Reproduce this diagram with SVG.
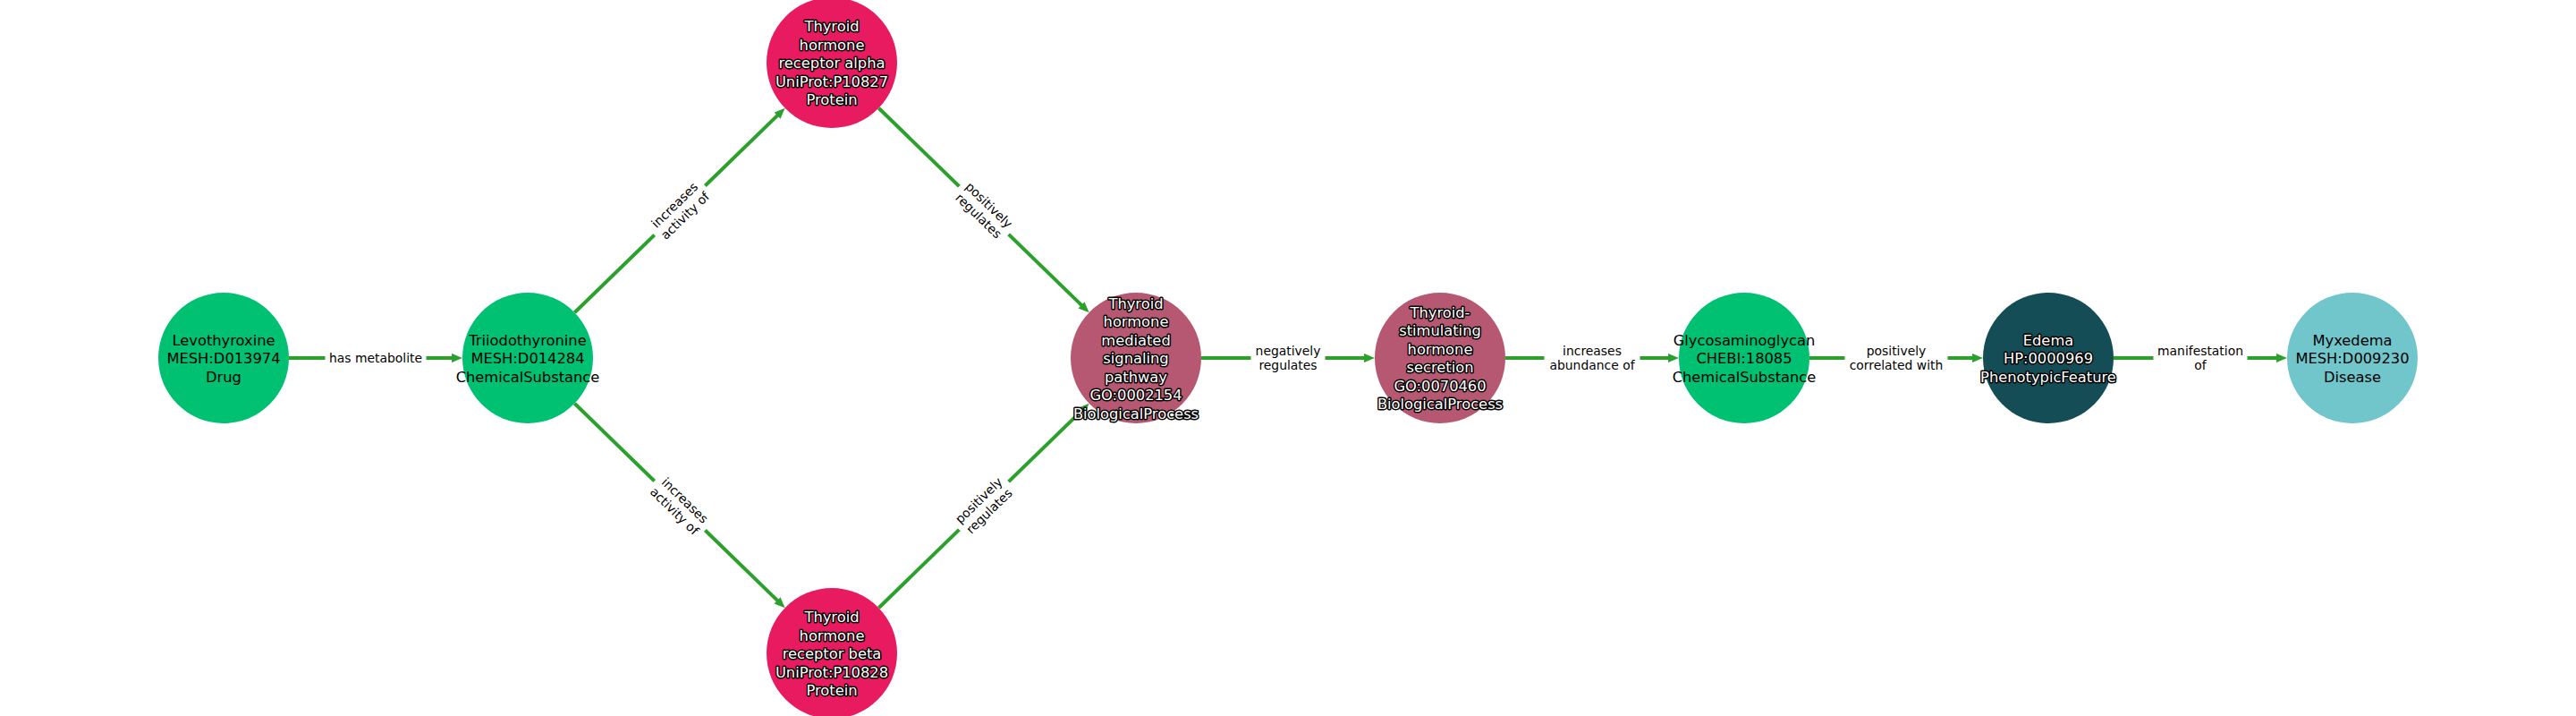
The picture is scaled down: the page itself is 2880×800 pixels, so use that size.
<svg xmlns="http://www.w3.org/2000/svg" width="2880" height="800" viewBox="0 0 2880 800">
<style>
.bg{fill:#ffffff}
.edge{stroke:#2ca02c;stroke-width:4;fill:none;marker-end:url(#arr)}
.nt{font-family:"DejaVu Sans","Liberation Sans",sans-serif;font-size:16.3px;text-anchor:middle;dominant-baseline:central}
.dark{fill:#000000}
.light{fill:#ffffff;stroke:#000000;stroke-width:3;stroke-linejoin:round;paint-order:stroke}
.et{font-family:"DejaVu Sans","Liberation Sans",sans-serif;font-size:13.9px;text-anchor:middle;dominant-baseline:central;fill:#000000}
.lb{fill:#ffffff;stroke:#ffffff;stroke-width:1}
.chem{fill:#00c172}
.prot{fill:#e91b60}
.bp{fill:#b75872}
.pheno{fill:#144d55}
.dis{fill:#70c6cb}
</style>
<defs>
<marker id="arr" markerUnits="userSpaceOnUse" markerWidth="14" markerHeight="12" refX="4" refY="5" orient="auto">
<path d="M0,0 L12,5 L0,10 z" fill="#2ca02c"/>
</marker>
</defs>
<rect class="bg" x="0" y="0" width="2880" height="800"/>
<g id="edges">
<line class="edge" x1="323" y1="400" x2="509" y2="400"/>
<line class="edge" x1="642.4" y1="349.2" x2="871.9" y2="126.4"/>
<line class="edge" x1="642.4" y1="450.8" x2="871.9" y2="673.6"/>
<line class="edge" x1="982.4" y1="120.8" x2="1211.9" y2="343.6"/>
<line class="edge" x1="982.4" y1="679.2" x2="1211.9" y2="456.4"/>
<line class="edge" x1="1343" y1="400" x2="1529" y2="400"/>
<line class="edge" x1="1683" y1="400" x2="1869" y2="400"/>
<line class="edge" x1="2023" y1="400" x2="2209" y2="400"/>
<line class="edge" x1="2363" y1="400" x2="2549" y2="400"/>
</g>
<g id="edge-labels">
<g transform="translate(420,400)">
<rect class="lb" x="-56" y="-12" width="112" height="24" rx="4"/>
<text class="et" x="0" y="0">has metabolite</text>
</g>
<g transform="translate(760,235) rotate(-44.14)">
<rect class="lb" x="-39" y="-21" width="78" height="42" rx="4"/>
<text class="et"><tspan x="0" y="-8.35">increases</tspan><tspan x="0" y="8.35">activity of</tspan></text>
</g>
<g transform="translate(760,565) rotate(44.14)">
<rect class="lb" x="-39" y="-21" width="78" height="42" rx="4"/>
<text class="et"><tspan x="0" y="-8.35">increases</tspan><tspan x="0" y="8.35">activity of</tspan></text>
</g>
<g transform="translate(1100,235) rotate(44.14)">
<rect class="lb" x="-38" y="-21" width="76" height="42" rx="4"/>
<text class="et"><tspan x="0" y="-8.35">positively</tspan><tspan x="0" y="8.35">regulates</tspan></text>
</g>
<g transform="translate(1100,565) rotate(-44.14)">
<rect class="lb" x="-38" y="-21" width="76" height="42" rx="4"/>
<text class="et"><tspan x="0" y="-8.35">positively</tspan><tspan x="0" y="8.35">regulates</tspan></text>
</g>
<g transform="translate(1440,400)">
<rect class="lb" x="-41" y="-21" width="82" height="42" rx="4"/>
<text class="et"><tspan x="0" y="-8.35">negatively</tspan><tspan x="0" y="8.35">regulates</tspan></text>
</g>
<g transform="translate(1780,400)">
<rect class="lb" x="-53" y="-21" width="106" height="42" rx="4"/>
<text class="et"><tspan x="0" y="-8.35">increases</tspan><tspan x="0" y="8.35">abundance of</tspan></text>
</g>
<g transform="translate(2120,400)">
<rect class="lb" x="-57" y="-21" width="114" height="42" rx="4"/>
<text class="et"><tspan x="0" y="-8.35">positively</tspan><tspan x="0" y="8.35">correlated with</tspan></text>
</g>
<g transform="translate(2460,400)">
<rect class="lb" x="-52" y="-21" width="104" height="42" rx="4"/>
<text class="et"><tspan x="0" y="-8.35">manifestation</tspan><tspan x="0" y="8.35">of</tspan></text>
</g>
</g>
<g id="node-levothyroxine">
<circle class="chem" cx="250" cy="400" r="73"/>
<text class="nt dark"><tspan x="250" y="379.5">Levothyroxine</tspan><tspan x="250" y="400">MESH:D013974</tspan><tspan x="250" y="420.5">Drug</tspan></text>
</g>
<g id="node-triiodothyronine">
<circle class="chem" cx="590" cy="400" r="73"/>
<text class="nt dark"><tspan x="590" y="379.5">Triiodothyronine</tspan><tspan x="590" y="400">MESH:D014284</tspan><tspan x="590" y="420.5">ChemicalSubstance</tspan></text>
</g>
<g id="node-thra">
<circle class="prot" cx="930" cy="70" r="73"/>
<text class="nt light"><tspan x="930" y="29">Thyroid</tspan><tspan x="930" y="49.5">hormone</tspan><tspan x="930" y="70">receptor alpha</tspan><tspan x="930" y="90.5">UniProt:P10827</tspan><tspan x="930" y="111">Protein</tspan></text>
</g>
<g id="node-thrb">
<circle class="prot" cx="930" cy="730" r="73"/>
<text class="nt light"><tspan x="930" y="689">Thyroid</tspan><tspan x="930" y="709.5">hormone</tspan><tspan x="930" y="730">receptor beta</tspan><tspan x="930" y="750.5">UniProt:P10828</tspan><tspan x="930" y="771">Protein</tspan></text>
</g>
<g id="node-th-pathway">
<circle class="bp" cx="1270" cy="400" r="73"/>
<text class="nt light"><tspan x="1270" y="338.5">Thyroid</tspan><tspan x="1270" y="359">hormone</tspan><tspan x="1270" y="379.5">mediated</tspan><tspan x="1270" y="400">signaling</tspan><tspan x="1270" y="420.5">pathway</tspan><tspan x="1270" y="441">GO:0002154</tspan><tspan x="1270" y="461.5">BiologicalProcess</tspan></text>
</g>
<g id="node-tsh-secretion">
<circle class="bp" cx="1610" cy="400" r="73"/>
<text class="nt light"><tspan x="1610" y="348.75">Thyroid-</tspan><tspan x="1610" y="369.25">stimulating</tspan><tspan x="1610" y="389.75">hormone</tspan><tspan x="1610" y="410.25">secretion</tspan><tspan x="1610" y="430.75">GO:0070460</tspan><tspan x="1610" y="451.25">BiologicalProcess</tspan></text>
</g>
<g id="node-glycosaminoglycan">
<circle class="chem" cx="1950" cy="400" r="73"/>
<text class="nt dark"><tspan x="1950" y="379.5">Glycosaminoglycan</tspan><tspan x="1950" y="400">CHEBI:18085</tspan><tspan x="1950" y="420.5">ChemicalSubstance</tspan></text>
</g>
<g id="node-edema">
<circle class="pheno" cx="2290" cy="400" r="73"/>
<text class="nt light"><tspan x="2290" y="379.5">Edema</tspan><tspan x="2290" y="400">HP:0000969</tspan><tspan x="2290" y="420.5">PhenotypicFeature</tspan></text>
</g>
<g id="node-myxedema">
<circle class="dis" cx="2630" cy="400" r="73"/>
<text class="nt dark"><tspan x="2630" y="379.5">Myxedema</tspan><tspan x="2630" y="400">MESH:D009230</tspan><tspan x="2630" y="420.5">Disease</tspan></text>
</g>
</svg>
